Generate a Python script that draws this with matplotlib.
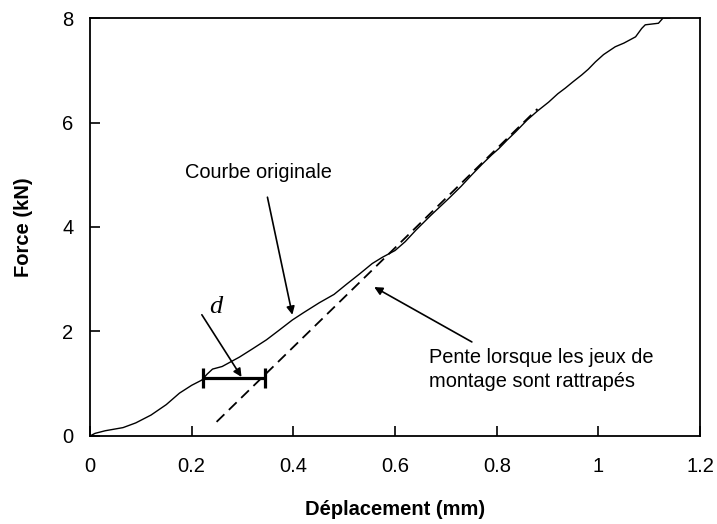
import matplotlib
matplotlib.use('Agg')
import matplotlib.pyplot as plt

plt.rcParams['font.family'] = 'Liberation Sans'

# courbe force-déplacement mesurée
depl = [0.0, 0.01, 0.03, 0.065, 0.09, 0.12, 0.15, 0.176, 0.20, 0.22, 0.23, 0.241,
        0.26, 0.294, 0.32, 0.347, 0.37, 0.398, 0.42, 0.451, 0.48, 0.504, 0.53,
        0.555, 0.575, 0.60, 0.62, 0.641, 0.67, 0.706, 0.73, 0.751, 0.771, 0.79,
        0.804, 0.82, 0.837, 0.86, 0.88, 0.902, 0.92, 0.935, 0.95, 0.967, 0.98,
        0.994, 1.01, 1.033, 1.05, 1.073, 1.085, 1.092, 1.118, 1.127, 1.14]
force = [0.0, 0.05, 0.10, 0.16, 0.25, 0.40, 0.60, 0.82, 0.97, 1.07, 1.18, 1.28,
         1.33, 1.51, 1.67, 1.84, 2.01, 2.22, 2.36, 2.55, 2.71, 2.90, 3.10,
         3.30, 3.42, 3.55, 3.72, 3.94, 4.22, 4.55, 4.78, 5.0, 5.2, 5.38,
         5.5, 5.66, 5.82, 6.05, 6.22, 6.39, 6.55, 6.66, 6.78, 6.91, 7.02,
         7.16, 7.30, 7.45, 7.52, 7.64, 7.80, 7.87, 7.90, 8.0, 8.0]

# pente une fois les jeux rattrapés
pente_x = [0.249, 0.88]
pente_y = [0.27, 6.26]

# écart d
d_x = [0.222, 0.345]
d_y = 1.11

fig = plt.figure(figsize=(7.17, 5.24), dpi=100)
ax = fig.add_axes([0.1255, 0.168, 0.851, 0.7976])

ax.plot(depl, force, color='black', lw=1.0)
ax.plot(pente_x, pente_y, color='black', lw=1.3, dashes=(6, 3.5))

ax.plot(d_x, [d_y, d_y], color='black', lw=2.3, solid_capstyle='butt')
for xe in d_x:
    ax.plot([xe, xe], [d_y - 0.2, d_y + 0.2], color='black', lw=2.3,
            solid_capstyle='butt')

arrow = dict(arrowstyle='-|>', color='black', lw=1.2, mutation_scale=12,
             shrinkA=0, shrinkB=0)
ax.annotate('', xy=(0.398, 2.32), xytext=(0.349, 4.57), arrowprops=arrow)
ax.annotate('', xy=(0.298, 1.13), xytext=(0.22, 2.32), arrowprops=arrow)
ax.annotate('', xy=(0.559, 2.85), xytext=(0.751, 1.80), arrowprops=arrow)

ax.text(0.186, 4.94, 'Courbe originale', fontsize=14.4, va='baseline')
ax.text(0.667, 0.94, 'Pente lorsque les jeux de\nmontage sont rattrapés',
        fontsize=14.4, va='baseline', linespacing=1.35)
ax.text(0.248, 2.47, 'd', fontsize=19, family='Liberation Serif',
        style='italic', ha='center', va='center')

ax.set_xlim(0, 1.2)
ax.set_ylim(0, 8)
ax.set_xticks([0, 0.2, 0.4, 0.6, 0.8, 1.0, 1.2])
ax.set_xticklabels(['0', '0.2', '0.4', '0.6', '0.8', '1', '1.2'])
ax.set_yticks([0, 2, 4, 6, 8])
ax.tick_params(direction='in', length=7, width=1.2, labelsize=14.5)
ax.tick_params(axis='x', pad=15)
ax.tick_params(axis='y', pad=12)
for s in ax.spines.values():
    s.set_linewidth(1.3)

ax.set_xlabel('Déplacement (mm)', fontsize=14.5, fontweight='bold')
ax.set_ylabel('Force (kN)', fontsize=14.5, fontweight='bold')
ax.xaxis.set_label_coords(0.5, -0.153)
ax.yaxis.set_label_coords(-0.093, 0.5)

fig.savefig('out.png', dpi=100)
